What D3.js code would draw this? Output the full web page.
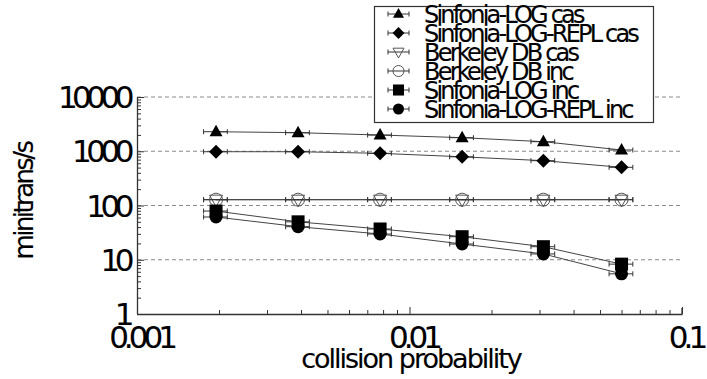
<!DOCTYPE html>
<html>
  <head>
    <meta charset="utf-8">
    <script src="https://cdn.jsdelivr.net/npm/d3@7"></script>
    <style>
      body { margin: 0; background: #fff; }
      text { font-family: "DejaVu Sans", sans-serif; fill: #000; stroke: #000; stroke-width: 0.12px; }
    </style>
  </head>
<body>
  <div id="chart"></div>

  <script type="text/javascript">

      // DATA
      var collision = [0.00195, 0.0039, 0.0078, 0.0156, 0.031, 0.06];
      var logCas    = [2290, 2200, 1990, 1780, 1500, 1055];
      var replCas   = [980, 980, 916, 790, 670, 506];
      var bdbCas    = [128, 128, 128, 128, 128, 128];
      var bdbInc    = [128, 128, 128, 128, 128, 128];
      var logInc    = [79, 50, 36.9, 26.6, 17.4, 8.3];
      var replInc   = [61.4, 40.7, 29.8, 19.5, 12.8, 5.5];
      var seriesNames = ["Sinfonia-LOG cas", "Sinfonia-LOG-REPL cas", "Berkeley DB cas",
                         "Berkeley DB inc", "Sinfonia-LOG inc", "Sinfonia-LOG-REPL inc"];
      var seriesMarks = ["triangle", "diamond", "triangledown", "circleopen", "square", "circle"];
      var xTicks = [0.001, 0.01, 0.1];
      var yTicks = [1, 10, 100, 1000, 10000];

      var allSeries = [logCas, replCas, bdbCas, bdbInc, logInc, replInc];

      var W = 707, H = 379;
      var svg = d3.select("#chart").append("svg")
          .attr("width", W).attr("height", H);

      var x = d3.scaleLog().domain([0.001, 0.1]).range([137, 682]);
      var y = d3.scaleLog().domain([1, 10000]).range([314, 97]);

      // tight text: the original font is set with squeezed spacing
      function tightText(px, py, size, ls, anchor, str, rot, dy) {
        return svg.append("text")
            .attr("transform", "translate(" + px + "," + py + ")" + (rot ? " rotate(" + rot + ")" : ""))
            .attr("dy", dy || "0")
            .style("font-size", size + "px")
            .style("letter-spacing", ls + "px")
            .style("text-anchor", anchor)
            .text(str);
      }

      // minor ticks 2..9 per decade
      var minorX = [], minorY = [];
      [0.001, 0.01].forEach(function (d) { for (var k = 2; k < 10; k++) minorX.push(d * k); });
      [1, 10, 100, 1000].forEach(function (d) { for (var k = 2; k < 10; k++) minorY.push(d * k); });

      // GRID
      svg.selectAll("line.grid")
          .data(yTicks.slice(1))
          .enter().append("line")
          .attr("class", "grid")
          .attr("x1", x.range()[0]).attr("x2", x.range()[1])
          .attr("y1", function (d) { return y(d); })
          .attr("y2", function (d) { return y(d); })
          .style("stroke", "#8a8a8a")
          .style("stroke-width", 1)
          .style("stroke-dasharray", "4,3");

      // AXES (ticks inside, gnuplot style)
      var gx = svg.append("g").attr("transform", "translate(0," + y.range()[0] + ")");
      gx.call(d3.axisTop(x).tickValues(xTicks.concat(minorX)).tickSize(7).tickFormat(""));
      gx.selectAll(".tick line").filter(function (d) { return xTicks.indexOf(d) < 0; }).attr("y2", -4);

      var gy = svg.append("g").attr("transform", "translate(" + x.range()[0] + ",0)");
      gy.call(d3.axisRight(y).tickValues(yTicks.concat(minorY)).tickSize(7).tickFormat(""));
      gy.selectAll(".tick line").filter(function (d) { return yTicks.indexOf(d) < 0; }).attr("x2", 4);

      [gx, gy].forEach(function (g) {
        g.select(".domain").style("stroke", "#333").style("stroke-width", 1.3);
        g.selectAll(".tick line").style("stroke", "#333");
      });
      gx.select(".domain").attr("d", "M" + x.range()[0] + ",0.5H" + x.range()[1] + "V-6");
      gy.select(".domain").attr("d", "M0.5," + y.range()[1] + "V" + y.range()[0]);

      // TICK LABELS
      yTicks.forEach(function (d) {
        tightText(129, y(d), 31, -5.5, "end", d, 0, "0.36em");
      });
      xTicks.forEach(function (d) {
        tightText(x(d) + 4, 348, 31, -5, "middle", d);
      });

      // AXIS TITLES
      tightText(33, 201, 26, -2.6, "middle", "minitrans/s", -90);
      tightText(411, 368, 27, -2, "middle", "collision probability");

      // MARKERS
      function drawMark(g, kind, cx, cy, s) {
        s = s || 1;
        var a = 6.5 * s, b = 4.5 * s, t = 7 * s;
        if (kind === "triangle") {
          g.append("path").attr("d", "M" + cx + "," + (cy - t) + "L" + (cx + a) + "," + (cy + b) + "L" + (cx - a) + "," + (cy + b) + "Z")
            .style("fill", "#000");
        } else if (kind === "triangledown") {
          g.append("path").attr("d", "M" + cx + "," + (cy + t) + "L" + (cx + a) + "," + (cy - b) + "L" + (cx - a) + "," + (cy - b) + "Z")
            .style("fill", "none").style("stroke", "#555").style("stroke-width", 1);
        } else if (kind === "diamond") {
          g.append("path").attr("d", "M" + cx + "," + (cy - t) + "L" + (cx + t) + "," + cy + "L" + cx + "," + (cy + t) + "L" + (cx - t) + "," + cy + "Z")
            .style("fill", "#000");
        } else if (kind === "circleopen") {
          g.append("circle").attr("cx", cx).attr("cy", cy).attr("r", a)
            .style("fill", "none").style("stroke", "#555").style("stroke-width", 1);
        } else if (kind === "square") {
          g.append("rect").attr("x", cx - a).attr("y", cy - a).attr("width", 2 * a).attr("height", 2 * a)
            .style("fill", "#000");
        } else if (kind === "circle") {
          g.append("circle").attr("cx", cx).attr("cy", cy).attr("r", a).style("fill", "#000");
        }
      }

      function errBar(g, x1, x2, cy) {
        g.append("line").attr("x1", x1).attr("x2", x2).attr("y1", cy).attr("y2", cy)
          .style("stroke", "#333").style("stroke-width", 1);
        [x1, x2].forEach(function (xx) {
          g.append("line").attr("x1", xx).attr("x2", xx).attr("y1", cy - 2.5).attr("y2", cy + 2.5)
            .style("stroke", "#333").style("stroke-width", 1);
        });
      }

      // SERIES
      var line = d3.line()
          .x(function (d) { return x(d[0]); })
          .y(function (d) { return y(d[1]); });

      allSeries.forEach(function (vals, si) {
        var g = svg.append("g");
        var pts = collision.map(function (c, i) { return [c, vals[i]]; });
        g.append("path").attr("d", line(pts))
            .style("fill", "none").style("stroke", "#444").style("stroke-width", 1);
        pts.forEach(function (p) {
          errBar(g, x(p[0] * 0.9), x(p[0] * 1.1), y(p[1]));
        });
        pts.forEach(function (p) {
          drawMark(g, seriesMarks[si], x(p[0]), y(p[1]));
        });
      });

      // LEGEND
      var lg = svg.append("g");
      lg.append("rect")
          .attr("x", 374.5).attr("y", 6.5).attr("width", 279).attr("height", 116)
          .style("fill", "#fff").style("stroke", "#333").style("stroke-width", 1.2);
      seriesNames.forEach(function (name, i) {
        var cy = 14 + i * 19;
        errBar(lg, 388, 409, cy);
        drawMark(lg, seriesMarks[i], 398.5, cy, 0.85);
        lg.append("text")
            .attr("x", 424)
            .attr("y", cy)
            .attr("dy", "0.36em")
            .style("font-size", "24px")
            .style("letter-spacing", "-2.8px")
            .text(name);
      });

  </script>
</body>
</html>
